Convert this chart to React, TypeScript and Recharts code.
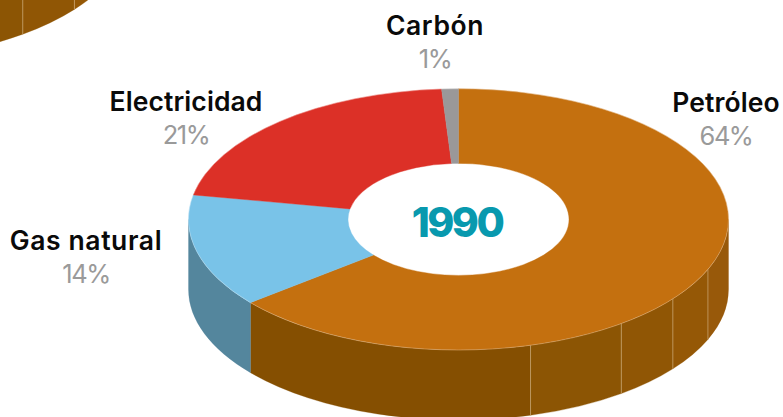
import React from "react";
import { PieChart, Pie, Cell } from "recharts";

// Share of final energy use in 1990, clockwise from twelve o'clock.
const sources = ["Petróleo", "Gas natural", "Electricidad", "Carbón"];
const shares = [64, 14, 21, 1];
const faceColors = ["#C4700F", "#79C3E8", "#DC3027", "#9A9899"];

// The side wall of the oil slice is shaded in facets; the other slices are plain.
const wallShares = [31.25, 4.15, 4.3, 6.0, 18.3, 14, 21, 1];
const wallColors = ["#98590A", "#955806", "#905605", "#8C5504", "#854F01", "#54869D", "#B42A22", "#7C7A7B"];

const faceData = sources.map((name, i) => ({ name, value: shares[i] }));
const wallData = wallShares.map((value, i) => ({ name: `wall-${i}`, value }));

const CX = 458.5;
const CY = 219.4;
const RX = 270;
const RY = 130.6;
const HOLE_RX = 110.5;
const HOLE_RY = 56;
const DEPTH = 70;

const rad = (deg: number) => (deg * Math.PI) / 180;
const at = (cx: number, cy: number, rx: number, ry: number, deg: number) =>
  `${(cx + rx * Math.cos(rad(deg))).toFixed(2)} ${(cy - ry * Math.sin(rad(deg))).toFixed(2)}`;

// Flattened donut slice for the top face.
function FaceSlice(props: any) {
  const { cx, cy, startAngle: a, endAngle: b, fill } = props;
  const large = Math.abs(a - b) > 180 ? 1 : 0;
  const d =
    `M${at(cx, cy, RX, RY, a)} A${RX} ${RY} 0 ${large} 1 ${at(cx, cy, RX, RY, b)} ` +
    `L${at(cx, cy, HOLE_RX, HOLE_RY, b)} A${HOLE_RX} ${HOLE_RY} 0 ${large} 0 ${at(cx, cy, HOLE_RX, HOLE_RY, a)} Z`;
  const rim = `M${at(cx, cy, RX, RY, a)} A${RX} ${RY} 0 ${large} 1 ${at(cx, cy, RX, RY, b)}`;
  return (
    <g>
      <path d={d} fill={fill} stroke={fill} strokeWidth={0.4} />
      <path d={rim} fill="none" stroke="#fff" strokeOpacity={0.35} strokeWidth={0.7} />
    </g>
  );
}

// Extruded outer wall; only the part of a slice on the near half of the ring shows.
function WallSlice(props: any) {
  const { cx, cy, startAngle, endAngle, fill, index } = props;
  const a = Math.min(startAngle, 0);
  const b = Math.max(endAngle, -180);
  if (a <= b) return null;
  const d =
    `M${at(cx, cy, RX, RY, a)} A${RX} ${RY} 0 0 1 ${at(cx, cy, RX, RY, b)} ` +
    `L${at(cx, cy + DEPTH, RX, RY, b)} A${RX} ${RY} 0 0 0 ${at(cx, cy + DEPTH, RX, RY, a)} Z`;
  const showSeam = index >= 1 && index <= 4;
  return (
    <g>
      <path d={d} fill={fill} stroke={fill} strokeWidth={0.3} />
      {showSeam && (
        <path
          d={`M${at(cx, cy, RX, RY, a)} L${at(cx, cy + DEPTH, RX, RY, a)}`}
          stroke="#E6C9A0"
          strokeOpacity={0.5}
          strokeWidth={1}
        />
      )}
    </g>
  );
}

const labelCenters: Record<string, [number, number]> = {
  "Petróleo": [726, 112],
  "Gas natural": [86, 250],
  "Electricidad": [186, 111],
  "Carbón": [435, 35],
};

const FONT = "Inter, sans-serif";

function SliceLabel(props: any) {
  const [x, y] = labelCenters[props.name];
  const spacing = props.name === "Gas natural" || props.name === "Carbón" ? 0.6 : 0.1;
  return (
    <g>
      <text x={x} y={y} textAnchor="middle" fontFamily={FONT} fontSize={26.5} fontWeight={600} letterSpacing={spacing} fill="#0A0A0A">
        {props.name}
      </text>
      <text x={x} y={y + 33} textAnchor="middle" fontFamily={FONT} fontSize={25.5} fontWeight={400} letterSpacing={-1.5} fill="#9A9A9A">
        {`${props.value}%`}
      </text>
    </g>
  );
}

export default function App() {
  return (
    <div style={{ position: "absolute", left: 0, top: 0, width: 783, height: 417, overflow: "hidden", background: "#fff" }}>
      <PieChart width={783} height={417} margin={{ top: 0, right: 0, bottom: 0, left: 0 }}>
        {/* Neighbouring ring from the previous panel, only its wall reaches the frame */}
        <Pie
          data={wallData}
          dataKey="value"
          cx={-140}
          cy={-140}
          innerRadius={HOLE_RX}
          outerRadius={RX}
          startAngle={90}
          endAngle={-270}
          shape={WallSlice}
          stroke="none"
          isAnimationActive={false}
        >
          {wallData.map((_, i) => (
            <Cell key={i} fill={wallColors[i]} />
          ))}
        </Pie>
        <Pie
          data={wallData}
          dataKey="value"
          cx={CX}
          cy={CY}
          innerRadius={HOLE_RX}
          outerRadius={RX}
          startAngle={90}
          endAngle={-270}
          shape={WallSlice}
          stroke="none"
          isAnimationActive={false}
        >
          {wallData.map((_, i) => (
            <Cell key={i} fill={wallColors[i]} />
          ))}
        </Pie>
        <Pie
          data={faceData}
          dataKey="value"
          cx={CX}
          cy={CY}
          innerRadius={HOLE_RX}
          outerRadius={RX}
          startAngle={90}
          endAngle={-270}
          shape={FaceSlice}
          stroke="none"
          label={SliceLabel}
          labelLine={false}
          isAnimationActive={false}
        >
          {faceData.map((_, i) => (
            <Cell key={i} fill={faceColors[i]} />
          ))}
        </Pie>
        <text x={457} y={237} textAnchor="middle" fontFamily={FONT} fontSize={41} fontWeight={800} letterSpacing={-2.5} fill="#0899AE">
          1990
        </text>
      </PieChart>
    </div>
  );
}
